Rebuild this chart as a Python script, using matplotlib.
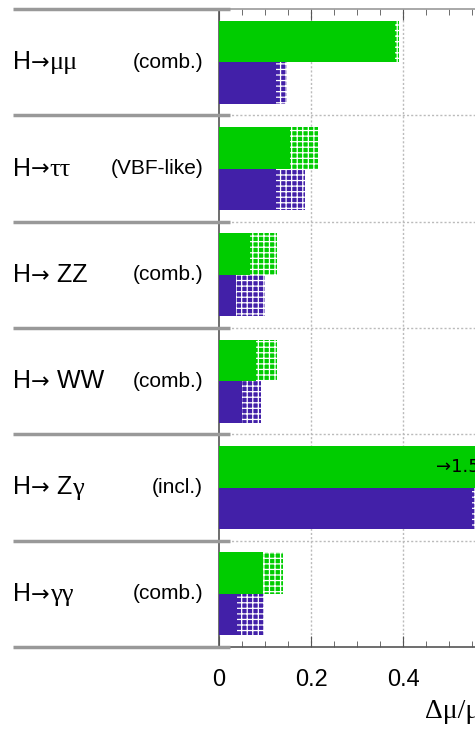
import matplotlib
matplotlib.use("Agg")
import matplotlib.pyplot as plt
from matplotlib.ticker import MultipleLocator
from matplotlib.transforms import blended_transform_factory
from matplotlib.offsetbox import TextArea, HPacker, AnnotationBbox

# channels, top to bottom
channels = ["H→μμ", "H→ττ", "H→ ZZ", "H→ WW", "H→ Zγ", "H→γγ"]
qualifiers = ["(comb.)", "(VBF-like)", "(comb.)", "(comb.)", "(incl.)", "(comb.)"]

# green (upper) bar: solid part and total (solid + hatched)
green_solid = [0.383, 0.155, 0.067, 0.080, 1.5, 0.096]
green_total = [0.391, 0.215, 0.126, 0.127, 1.5, 0.139]
# purple (lower) bar
purple_solid = [0.123, 0.123, 0.036, 0.051, 0.551, 0.039]
purple_total = [0.148, 0.188, 0.101, 0.091, 0.62, 0.097]

offscale_note = "→1.5"
xticks = [0, 0.2, 0.4, 0.6]
xticklabels = ["0", "0.2", "0.4", ""]

GREEN = "#00cc00"
PURPLE = "#4220a8"

plt.rcParams['font.family'] = ['Liberation Sans', 'DejaVu Sans']
plt.rcParams['hatch.linewidth'] = 0.9

W, H = 475, 731
fig = plt.figure(figsize=(W / 100, H / 100), dpi=100)
xmax = 0.8
ax = fig.add_axes([219 / W, 84 / H, xmax * 460 / W, 638 / H])
ax.set_xlim(0, xmax)
n = len(channels)
ax.set_ylim(0, n)


def label_box(s):
    # split label into runs: sans letters, arrow, serif greek
    pieces = []
    for ch in s:
        if ch == "→":
            kind = "arrow"
        elif "\u0370" <= ch <= "\u03ff":
            kind = "greek"
        else:
            kind = "sans"
        if pieces and pieces[-1][0] == kind:
            pieces[-1][1] += ch
        else:
            pieces.append([kind, ch])
    props = {"sans": dict(fontsize=18, family=["Liberation Sans", "DejaVu Sans"]),
             "arrow": dict(fontsize=16, family=["DejaVu Sans"]),
             "greek": dict(fontsize=19, family=["Liberation Serif", "DejaVu Serif"])}
    areas = [TextArea(txt, textprops=props[k]) for k, txt in pieces]
    return HPacker(children=areas, align="baseline", pad=0, sep=0)


bar_h = 0.39
margin = 0.11
for i in range(n):
    top = n - i
    yg = top - margin - bar_h / 2
    yp = yg - bar_h
    ax.barh(yg, green_solid[i], height=bar_h, color=GREEN, lw=0, zorder=3)
    ax.barh(yp, purple_solid[i], height=bar_h, color=PURPLE, lw=0, zorder=3)
    if green_total[i] > green_solid[i]:
        ax.barh(yg, green_total[i] - green_solid[i], left=green_solid[i], height=bar_h,
                facecolor=GREEN, edgecolor="white", hatch="+++", lw=0, zorder=3)
    if purple_total[i] > purple_solid[i]:
        ax.barh(yp, purple_total[i] - purple_solid[i], left=purple_solid[i], height=bar_h,
                facecolor=PURPLE, edgecolor="white", hatch="+++", lw=0, zorder=3)
    # labels on the left
    yc = ax.transData.transform((0, top - 0.5))[1] / H
    ab = AnnotationBbox(label_box(channels[i]), (13 / W, yc), xycoords="figure fraction",
                        box_alignment=(0, 0.5), frameon=False, pad=0)
    fig.add_artist(ab)
    fig.text(203 / W, yc, qualifiers[i], fontsize=15, ha="right", va="center")

# note for the off-scale bar
ax.text(0.472, n - 4 - margin - bar_h / 2, offscale_note, fontsize=13, ha="left",
        va="center", zorder=4, family=["DejaVu Sans"])

# row separators: solid on the left, dotted across the plot
trans = blended_transform_factory(fig.transFigure, ax.transData)
for k in range(n + 1):
    ax.plot([13 / W, 230 / W], [k, k], color="#999999", lw=2.5, transform=trans,
            clip_on=False, zorder=5, solid_capstyle="butt")
    if 0 < k < n:
        ax.axhline(k, color="#bbbbbb", lw=1, ls=(0, (1.5, 1.5)), zorder=1)
for xv in xticks[1:]:
    ax.axvline(xv, color="#bbbbbb", lw=1, ls=(0, (1.5, 1.5)), zorder=1)

for side in ["left", "top", "bottom", "right"]:
    ax.spines[side].set_color("#555555")
    ax.spines[side].set_linewidth(1.2)
ax.spines["top"].set_color("#999999")

ax.set_xticks(xticks, xticklabels)
ax.xaxis.set_minor_locator(MultipleLocator(0.05))
ax.tick_params(axis="x", which="major", direction="in", top=True, length=8,
               color="#555555", labelsize=17, pad=16)
ax.tick_params(axis="x", which="minor", direction="in", top=True, length=4,
               color="#555555")
ax.set_yticks([])

fig.text(425 / W, 13 / H, "Δμ/μ", fontsize=20, ha="left", va="baseline",
         family=["Liberation Serif", "DejaVu Serif"])

fig.savefig("out.png", dpi=100)
